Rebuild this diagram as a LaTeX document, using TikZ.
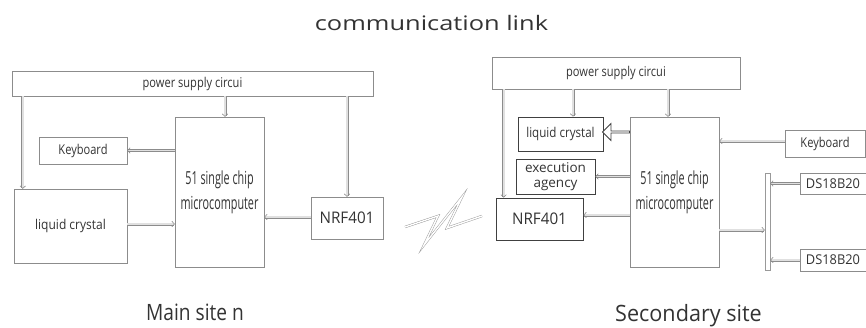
\documentclass[tikz,border=0pt]{standalone}
\usepackage{fontspec}
\setmainfont{Open Sans}
\usepackage{tikz}
\usetikzlibrary{arrows.meta,calc,shapes.arrows}

\newcommand{\squeeze}[2][0.82]{\scalebox{#1}[1]{#2}}

\tikzset{
  box/.style={
    rectangle,
    draw=black!45,
    inner sep=0pt,
    text=black!80,
    font=\fontsize{13.5}{15}\selectfont
  },
  darkbox/.style={box, draw=black!75, thick},
  mcubox/.style={box, align=center, font=\fontsize{18}{25}\selectfont},
  link/.style={
    draw=black!45,
    double=black!12,
    double distance=1.8pt,
    line width=0.6pt,
    -{Straight Barb[length=2.5pt,width=5.5pt]}
  },
  caption/.style={text=black!80, anchor=base, font=\fontsize{22.5}{26}\selectfont}
}

\begin{document}
\begin{tikzpicture}[x=1pt,y=-1pt]
  \useasboundingbox (0,0) rectangle (866,327);

  % titles
  \node[caption, font=\fontsize{20}{24}\selectfont] (title) at (431.5,30) {\squeeze[1.27]{communication link}};
  \node[caption] (mainsite) at (195,320) {\squeeze[0.85]{Main site n}};
  \node[caption] (secsite) at (688.5,321) {\squeeze[0.96]{Secondary site}};

  % main site
  \node[box, minimum width=361, minimum height=25] (ps1) at (192.5,83.5) {\squeeze{power supply circui}};
  \node[box, minimum width=88, minimum height=27] (kb1) at (83,150.5) {\squeeze{Keyboard}};
  \node[box, minimum width=113, minimum height=74] (lc1) at (70.5,226) {\squeeze[0.89]{liquid crystal}};
  \node[mcubox, minimum width=89, minimum height=150] (mc1) at (219.5,192)
        {\squeeze[0.6]{51 single chip}\\\squeeze[0.6]{microcomputer}};
  \node[box, minimum width=72, minimum height=42, font=\fontsize{16}{18}\selectfont] (nrf1) at (347,218) {\squeeze[0.95]{NRF401}};

  \coordinate (p1) at ($(lc1.north west)+(9,0)$);
  \coordinate (p2) at ($(mc1.north)+(5.5,0)$);
  \draw[link] (p1 |- ps1.south) -- (p1);
  \draw[link] (p2 |- ps1.south) -- (p2);
  \draw[link] (nrf1.north |- ps1.south) -- (nrf1.north);
  \draw[link] (kb1.east -| mc1.west) -- (kb1.east);
  \coordinate (p3) at ($(lc1.east)+(0,-2)$);
  \draw[link] (p3) -- (p3 -| mc1.west);
  \coordinate (p4) at ($(nrf1.west)+(0,-1)$);
  \draw[link] (p4) -- (p4 -| mc1.east);

  % radio link
  \draw[draw=black!40, double=white, double distance=1.4pt, line width=0.45pt, line join=miter]
    (405,227) -- (438,216) -- (424,245) -- (462,197) -- (447,228) -- (482,216);

  % secondary site
  \node[box, minimum width=248, minimum height=32] (ps2) at (616,73) {\squeeze{power supply circui}};
  \node[darkbox, minimum width=85, minimum height=34] (lc2) at (560.5,134) {\squeeze[0.86]{liquid crystal}};
  \node[darkbox, minimum width=79, minimum height=35, align=center,
        font=\fontsize{13.5}{14.5}\selectfont] (ex2) at (555.5,176.5) {execution\\agency};
  \node[darkbox, minimum width=87, minimum height=42, font=\fontsize{16}{18}\selectfont] (nrf2) at (539.5,219) {\squeeze[0.95]{NRF401}};
  \node[mcubox, minimum width=89, minimum height=150] (mc2) at (674.5,192)
        {\squeeze[0.6]{51 single chip}\\\squeeze[0.6]{microcomputer}};
  \node[box, minimum width=80, minimum height=27] (kb2) at (825,143.5) {\squeeze{Keyboard}};
  \node[box, draw=black!40, minimum width=5, minimum height=97] (bus) at (767.5,221.5) {};
  \node[box, minimum width=66, minimum height=21] (ds1) at (833,183.5) {\squeeze[0.95]{DS18B20}};
  \node[box, minimum width=66, minimum height=22] (ds2) at (833,260) {\squeeze[0.95]{DS18B20}};

  \coordinate (q1) at ($(nrf2.north west)+(8,0)$);
  \coordinate (q2) at ($(lc2.north)+(12.5,0)$);
  \coordinate (q3) at ($(mc2.north)+(-6.5,0)$);
  \draw[link] (q1 |- ps2.south) -- (q1);
  \draw[link] (q2 |- ps2.south) -- (q2);
  \draw[link] (q3 |- ps2.south) -- (q3);
  \coordinate (q4) at ($(kb2.west)+(0,-2.5)$);
  \draw[link] (q4) -- (q4 -| mc2.east);
  \draw[link] (ex2.east -| mc2.west) -- (ex2.east);
  \coordinate (q5) at ($(nrf2.east)+(0,-4)$);
  \draw[link] (q5 -| mc2.west) -- (q5);
  \coordinate (q6) at ($(mc2.east)+(0,38)$);
  \draw[link] (q6) -- (q6 -| bus.west);
  \draw[link] (ds1.west) -- (ds1.west -| bus.east);
  \draw[link] (ds2.west) -- (ds2.west -| bus.east);

  % hollow arrow into the display
  \node[single arrow, draw=black!75, thick, fill=white, shape border rotate=180,
        minimum height=27, minimum width=17, single arrow head extend=3pt,
        inner sep=0pt] (lcarrow) at (616.5,132) {};
\end{tikzpicture}
\end{document}
